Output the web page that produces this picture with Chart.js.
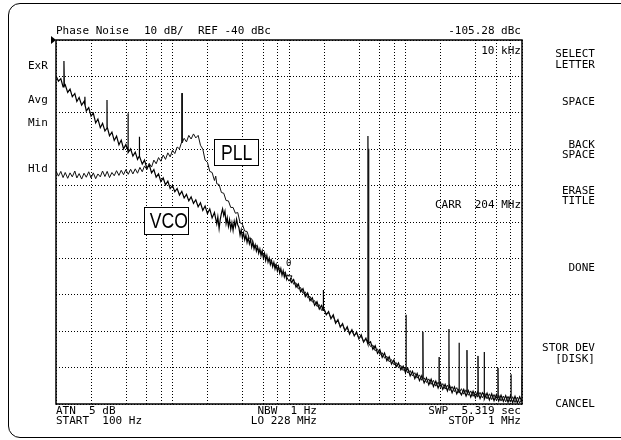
<!DOCTYPE html>
<html><head><meta charset="utf-8">
<script src="https://cdn.jsdelivr.net/npm/chart.js@4/dist/chart.umd.min.js"></script>
<style>
html,body{margin:0;padding:0;background:#fff;}
#wrap{position:relative;width:621px;height:440px;overflow:hidden;background:#fff;}
#frame{position:absolute;left:8px;top:3px;width:660px;height:435px;border:1.5px solid #000;border-radius:12px;box-sizing:border-box;}
canvas{position:absolute;left:0;top:0;}
.t{position:absolute;font-family:'DejaVu Sans Mono',monospace;font-size:11px;line-height:10px;height:10px;color:#000;white-space:pre;}
.box{position:absolute;border:1px solid #000;background:#fff;font-family:'Liberation Sans',sans-serif;font-size:22px;text-align:center;box-sizing:border-box;overflow:hidden;}
.box span{display:inline-block;transform:scaleX(0.8);}
#arrow{position:absolute;left:51px;top:36px;width:0;height:0;border-top:4px solid transparent;border-bottom:4px solid transparent;border-left:5px solid #000;}
</style></head>
<body>
<div id="wrap">
<div id="frame"></div>
<canvas id="c" width="621" height="440"></canvas>
<div id="arrow"></div>
</div>
<script>
// ---- data (offset frequency in Hz, level in dBc) ----
const vcoFreq = [
 100,105,110,115,117,117,118,120,126,132,
 138,145,151,158,166,174,177,177,178,182,
 191,200,209,219,229,240,251,263,274,274,
 275,288,302,316,331,347,363,380,398,415,
 415,417,437,457,479,501,516,516,525,550,
 575,603,631,661,692,724,759,794,832,871,
 912,955,1000,1047,1096,1148,1202,1259,1318,1380,
 1445,1514,1585,1660,1738,1820,1905,1995,2089,2188,
 2291,2399,2450,2512,2570,2630,2690,2754,2820,2884,
 2950,3020,3090,3162,3236,3311,3388,3467,3548,3631,
 3715,3802,3890,3981,4074,4169,4266,4365,4467,4571,
 4677,4786,4898,5012,5129,5248,5370,5495,5623,5754,
 5888,6026,6166,6310,6457,6607,6761,6918,7079,7244,
 7413,7586,7762,7943,8128,8318,8511,8710,8913,9120,
 9333,9550,9772,10000,10471,10965,11482,12023,12589,13183,
 13804,14454,15136,15849,16596,17378,18197,19055,19600,19600,
 19700,19953,20893,21878,22909,23988,25119,26303,27542,28840,
 30200,31623,33113,34674,36308,38019,39811,41687,43652,45709,
 47600,47600,47800,50119,52481,54954,57544,60256,63096,66069,
 69183,72444,75858,79433,83176,87096,91201,95499,100000,101000,
 101000,101500,104713,109648,114815,120226,125893,131826,138038,144544,
 151356,158489,165959,173780,181970,190546,199526,208930,218776,229087,
 236000,236000,237000,239883,251189,263027,275423,288403,288403,289500,
 301995,316228,331131,346737,363078,380189,398107,416869,436516,457088,
 472000,472000,474000,478630,501187,524807,549541,575440,602560,630957,
 660693,691831,724436,758578,794328,805000,805000,807000,831764,870964,
 912011,954993,1000000];
const vcoLevel = [
 -49.8,-51.3,-50.6,-52.9,-52.3,-45.8,-52.6,-52.3,-54.4,-53.5,
 -55.6,-54.7,-56.9,-55.8,-57.9,-56.9,-57.8,-55.6,-58.0,-59.5,
 -58.6,-60.9,-60.1,-62.8,-61.7,-64.1,-62.9,-65.0,-64.2,-56.5,
 -63.9,-66.3,-65.3,-67.6,-66.4,-68.8,-67.5,-69.9,-68.7,-70.5,
 -60.1,-70.9,-69.9,-71.9,-70.8,-72.8,-72.0,-66.6,-71.9,-74.1,
 -73.0,-75.3,-74.2,-76.5,-75.6,-77.7,-76.8,-78.9,-77.9,-79.8,
 -78.8,-80.8,-80.0,-81.7,-80.8,-82.6,-81.6,-83.4,-82.4,-84.2,
 -83.1,-84.9,-83.9,-85.8,-84.7,-86.8,-85.6,-87.7,-86.4,-88.9,
 -87.4,-90.5,-88.6,-91.8,-89.3,-87.6,-86.4,-88.2,-87.0,-90.4,
 -88.8,-91.2,-89.4,-92.0,-90.2,-92.3,-89.8,-91.3,-89.2,-90.8,
 -91.5,-93.6,-92.1,-94.4,-93.0,-94.9,-93.6,-95.6,-94.3,-96.0,
 -94.8,-96.9,-95.6,-97.4,-96.3,-98.0,-96.8,-98.6,-97.4,-99.2,
 -97.9,-99.9,-98.6,-100.6,-99.2,-101.0,-99.9,-101.7,-100.6,-102.3,
 -101.1,-102.9,-101.7,-103.4,-102.2,-104.0,-102.8,-104.6,-103.4,-105.1,
 -104.0,-105.7,-104.6,-104.8,-106.6,-105.8,-107.9,-107.0,-109.2,-108.3,
 -110.5,-109.5,-111.6,-110.8,-112.9,-111.9,-113.9,-112.9,-114.3,-108.7,
 -114.3,-113.6,-115.5,-114.6,-116.6,-115.5,-117.8,-116.8,-118.9,-117.9,
 -119.9,-118.8,-120.8,-119.6,-121.3,-120.2,-122.1,-121.0,-123.0,-121.9,
 -123.6,-66.4,-123.4,-122.9,-125.0,-124.0,-126.1,-125.1,-127.2,-126.0,
 -128.1,-127.0,-129.0,-127.9,-129.8,-128.7,-130.6,-129.6,-131.4,-130.4,
 -115.5,-130.9,-130.2,-132.3,-131.0,-133.0,-131.6,-133.6,-132.2,-134.2,
 -132.8,-134.7,-133.2,-135.2,-133.7,-135.6,-134.1,-136.0,-134.6,-136.4,
 -135.2,-119.4,-135.6,-135.0,-136.9,-135.3,-137.2,-135.8,-123.2,-136.4,
 -137.5,-136.0,-137.8,-136.3,-138.1,-136.5,-138.3,-136.7,-138.5,-136.9,
 -137.5,-125.7,-138.0,-138.7,-137.0,-138.9,-137.2,-139.1,-137.4,-139.2,
 -137.6,-139.3,-137.7,-139.5,-137.8,-138.3,-131.8,-138.5,-139.6,-137.9,
 -139.7,-138.0,-139.4];

const pllFreq = [
 100,105,110,115,120,126,132,138,145,151,
 158,166,174,182,191,200,209,219,229,240,
 251,263,275,288,302,316,331,347,363,380,
 398,417,437,457,479,501,525,550,575,603,
 631,661,692,724,759,794,832,871,912,955,
 1000,1047,1096,1148,1202,1207,1212,1259,1318,1380,
 1445,1514,1585,1660,1738,1820,1905,1995,2089,2188,
 2291,2350,2399,2512,2630,2754,2884,3020,3162,3311,
 3467,3631,3802,3981,4169,4365,4571,4786,5012,5248,
 5495,5754,6026,6310,6607,6918,7244,7586,7943,8318,
 8710,9120,9550,10000,10471,10965,11482,12023,12589,13183,
 13804,14454,15136,15849,16596,17378,18197,19055,19953,20893,
 21878,22909,23988,25119,26303,27542,28840,30200,31623,33113,
 34674,36308,38019,39811,41687,43652,45709,48200,48200,48400,
 50119,52481,54954,57544,60256,63096,66069,69183,72444,75858,
 79433,83176,87096,91201,95499,100000,104713,109648,114815,120226,
 125893,131826,138038,141000,141000,142000,144544,151356,158489,165959,
 173780,181970,190546,194000,194000,195000,199526,208930,218776,229087,
 239883,251189,263027,275423,288403,301995,316228,331131,337000,337000,
 339000,346737,363078,380189,398107,416869,419000,419000,421000,436516,
 457088,478630,501187,524807,549541,575440,602560,622000,622000,625000,
 630957,660693,691831,724436,758578,794328,831764,870964,912011,954993,
 1000000,1000000];
const pllLevel = [
 -76.0,-77.4,-76.1,-77.8,-76.4,-78.0,-76.5,-77.6,-76.0,-77.9,
 -76.7,-78.2,-76.6,-77.7,-76.2,-77.9,-76.5,-78.1,-76.8,-77.6,
 -76.0,-77.5,-76.1,-77.8,-76.4,-77.3,-75.9,-77.2,-75.8,-77.0,
 -75.6,-76.9,-75.5,-76.8,-75.4,-76.6,-75.0,-76.2,-74.6,-75.6,
 -73.9,-74.9,-73.0,-74.0,-72.3,-73.3,-71.6,-72.8,-71.0,-72.1,
 -70.3,-71.2,-69.4,-69.9,-67.9,-54.6,-68.2,-67.0,-68.0,-66.2,
 -67.2,-65.8,-66.9,-66.2,-68.9,-70.0,-73.0,-73.6,-76.1,-76.4,
 -78.6,-77.4,-79.5,-79.7,-81.9,-82.1,-84.1,-84.2,-86.0,-86.0,
 -87.6,-87.4,-90.2,-90.6,-92.5,-92.6,-94.6,-94.6,-96.5,-96.4,
 -97.8,-98.0,-99.3,-99.1,-100.5,-100.3,-101.7,-101.5,-102.9,-102.7,
 -104.1,-103.8,-105.2,-105.7,-105.4,-107.1,-106.7,-108.4,-108.0,-109.6,
 -109.2,-110.8,-110.4,-112.0,-111.6,-113.2,-112.7,-114.3,-113.8,-115.3,
 -114.9,-116.3,-115.9,-117.5,-117.1,-118.7,-118.2,-119.7,-119.1,-120.5,
 -119.9,-121.1,-120.6,-121.9,-121.4,-122.8,-122.3,-123.0,-69.9,-123.3,
 -124.2,-123.8,-125.4,-124.9,-126.4,-125.9,-127.4,-126.9,-128.4,-127.8,
 -129.2,-128.6,-130.0,-129.4,-130.8,-130.1,-131.5,-130.8,-132.3,-131.4,
 -132.9,-132.0,-133.5,-132.6,-120.2,-133.0,-132.8,-134.1,-133.1,-134.6,
 -133.5,-135.1,-134.0,-134.5,-127.1,-134.6,-135.5,-134.4,-135.9,-134.8,
 -136.3,-135.2,-136.6,-135.5,-137.0,-135.8,-137.3,-136.1,-136.8,-125.2,
 -137.0,-137.6,-136.4,-137.9,-136.6,-138.1,-137.5,-126.8,-137.7,-136.8,
 -138.3,-137.0,-138.6,-137.2,-138.8,-137.4,-139.0,-138.0,-130.1,-138.3,
 -137.6,-139.2,-137.8,-139.4,-137.9,-139.5,-138.0,-139.6,-138.1,-139.7,
 -138.5,-132.0];

const markerFreq = [10000];
const markerLevel = [-105.28];

// vertical grid positions (Hz) and level scale (dBc)
const gridFreqs = [100,200,400,600,800,1000,2000,4000,6000,8000,10000,20000,40000,60000,80000,100000,200000,400000,600000,800000,1000000];
const refLevel = -40;
const bottomLevel = -140;
const dbPerDiv = 10;

// ---- text labels ----
const labels = [
  ['Phase Noise',56,31,'l'],['10 dB/',144,31,'l'],['REF -40 dBc',198,31,'l'],['-105.28 dBc',521,31,'r'],
  ['10 kHz',521,51,'r'],['CARR  204 MHz',521,205,'r'],
  ['ExR',28,66,'l'],['Avg',28,100,'l'],['Min',28,123,'l'],['Hld',28,169,'l'],
  ['SELECT',595,54,'r'],['LETTER',595,65,'r'],['SPACE',595,102,'r'],['BACK',595,145,'r'],['SPACE',595,155,'r'],
  ['ERASE',595,191,'r'],['TITLE',595,201,'r'],['DONE',595,268,'r'],['STOR DEV',595,348,'r'],['[DISK]',595,359,'r'],['CANCEL',595,404,'r'],
  ['ATN  5 dB',56,411,'l'],['START  100 Hz',56,421,'l'],['NBW  1 Hz',317,411,'r'],['LO 228 MHz',317,421,'r'],
  ['SWP  5.319 sec',521,411,'r'],['STOP  1 MHz',521,421,'r']
];
const wrap = document.getElementById('wrap');
labels.forEach(([txt,x,y,al])=>{
  const d=document.createElement('div');d.className='t';d.textContent=txt;
  d.style.top=(y-5)+'px';
  if(al==='r'){d.style.right=(621-x)+'px';d.style.textAlign='right';}else{d.style.left=x+'px';}
  wrap.appendChild(d);
});
const mk=document.createElement('div');mk.className='t';mk.textContent='0';mk.style.fontSize='9px';mk.style.left='286px';mk.style.top='258px';wrap.appendChild(mk);
[['PLL',214,139,45,27],['VCO',144,207,45,28]].forEach(([txt,x,y,w,h])=>{
  const b=document.createElement('div');b.className='box';
  b.style.left=x+'px';b.style.top=y+'px';b.style.width=w+'px';b.style.height=h+'px';b.style.lineHeight=(h-2)+'px';
  const s=document.createElement('span');s.textContent=txt;b.appendChild(s);wrap.appendChild(b);
});

const framePlugin = {
  id:'frame',
  afterDatasetsDraw(chart){
    const {ctx,chartArea:a}=chart;
    ctx.save();ctx.strokeStyle='#000';ctx.lineWidth=1.5;ctx.setLineDash([]);
    ctx.strokeRect(a.left,a.top,a.right-a.left,a.bottom-a.top);
    ctx.restore();
  }
};

new Chart(document.getElementById('c'),{
  type:'line',
  data:{datasets:[
    {label:'VCO',data:vcoFreq.map((f,i)=>({x:f,y:vcoLevel[i]})),borderColor:'#000',borderWidth:1.2,pointRadius:0,tension:0,order:2},
    {label:'PLL',data:pllFreq.map((f,i)=>({x:f,y:pllLevel[i]})),borderColor:'#111',borderWidth:1,pointRadius:0,tension:0,order:1},
    {label:'Marker',data:markerFreq.map((f,i)=>({x:f,y:markerLevel[i]})),showLine:false,pointStyle:'triangle',rotation:180,pointRadius:3.5,borderColor:'#000',backgroundColor:'#fff',borderWidth:1,order:0}
  ]},
  options:{
    responsive:false,animation:false,events:[],
    layout:{padding:{left:56,top:40,right:99,bottom:36}},
    plugins:{legend:{display:false},tooltip:{enabled:false}},
    scales:{
      x:{type:'logarithmic',min:gridFreqs[0],max:gridFreqs[gridFreqs.length-1],
         afterBuildTicks:(s)=>{s.ticks=gridFreqs.map(v=>({value:v}));},
         ticks:{display:false},grid:{color:'#000',lineWidth:1,drawTicks:false},border:{display:false,dash:[1,2]}},
      y:{type:'linear',min:bottomLevel,max:refLevel,ticks:{display:false,stepSize:dbPerDiv},
         grid:{color:'#000',lineWidth:1,drawTicks:false},border:{display:false,dash:[1,2]}}
    }
  },
  plugins:[framePlugin]
});
</script>
</body></html>
